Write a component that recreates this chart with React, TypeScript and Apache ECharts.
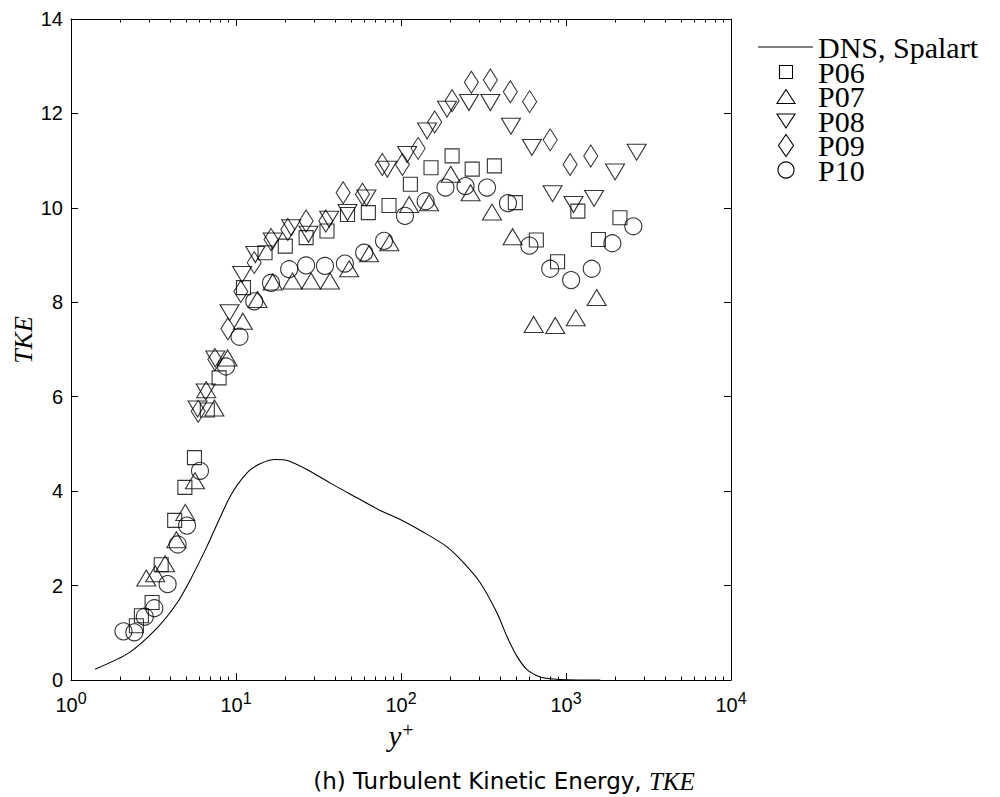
import React, { useEffect, useRef } from "react";
import * as echarts from "echarts";

// DNS, Spalart (y+, TKE)
const dnsData: [number, number][] = [
  [1.4, 0.23], [2.23, 0.57], [3.32, 1.1], [4.39, 1.63], [5.28, 2.12], [6.67, 2.83],
  [9.23, 3.89], [11.7, 4.39], [14.0, 4.58], [17.3, 4.67], [20.4, 4.65], [26.9, 4.46],
  [37.3, 4.17], [54.1, 3.86], [74.9, 3.59], [99, 3.4], [137, 3.13], [190, 2.82],
  [240, 2.48], [302, 2.06], [382, 1.42], [439, 0.92], [505, 0.5], [580, 0.22],
  [698, 0.064], [841, 0.02], [1000, 0.005], [1614, 0],
];

const p06: [number, number][] = [
  [2.49, 1.15], [2.67, 1.36], [3.1, 1.64], [3.52, 2.44], [4.25, 3.38], [4.9, 4.08],
  [5.6, 4.71], [6.7, 5.72], [7.9, 6.4], [11.1, 8.31], [15.0, 9.05], [19.9, 9.19],
  [26.6, 9.37], [35.6, 9.51], [47.4, 9.86], [63.4, 9.9], [84.6, 10.05], [114, 10.5],
  [152, 10.85], [204, 11.1], [270, 10.82], [368, 10.89], [493, 10.11], [661, 9.32],
  [889, 8.86], [1180, 9.93], [1572, 9.33], [2123, 9.79],
];

const p07: [number, number][] = [
  [2.86, 2.16], [3.24, 2.25], [3.72, 2.46], [4.35, 2.97], [4.93, 3.55], [5.64, 4.22],
  [6.6, 6.15], [7.4, 5.76], [8.9, 6.82], [11.0, 7.6], [13.5, 8.06], [16.7, 8.43],
  [22.0, 8.45], [28.5, 8.45], [37.1, 8.45], [48.5, 8.71], [64, 9.03], [85, 9.26],
  [112, 10.07], [148, 10.11], [200, 10.71], [264, 10.32], [356, 9.91], [475, 9.39],
  [637, 7.53], [861, 7.51], [1146, 7.67], [1535, 8.1],
];

const p08: [number, number][] = [
  [5.85, 5.74], [6.55, 6.1], [7.49, 6.8], [9.14, 7.78], [10.9, 8.59], [13.1, 9.01],
  [16.7, 9.3], [21.6, 9.58], [27.5, 9.44], [36.7, 9.76], [47.4, 9.9], [61.7, 10.21],
  [82.6, 10.82], [109, 11.13], [144, 11.63], [190, 12.09], [258, 12.23], [348, 12.23],
  [464, 11.73], [621, 11.28], [829, 10.3], [1110, 10.07], [1480, 10.2], [1983, 10.76],
  [2680, 11.18],
];

const p09: [number, number][] = [
  [5.9, 5.69], [7.45, 6.79], [8.93, 7.44], [10.7, 8.23], [12.9, 8.84], [16.3, 9.33],
  [20.6, 9.54], [26.6, 9.72], [35, 9.72], [44.6, 10.32], [58.4, 10.29], [77, 10.92],
  [102, 10.92], [127, 11.26], [160, 11.82], [204, 12.27], [267, 12.66], [348, 12.71],
  [460, 12.46], [602, 12.25], [802, 11.44], [1059, 10.92], [1413, 11.1],
];

const p10: [number, number][] = [
  [2.08, 1.03], [2.42, 1.01], [2.8, 1.34], [3.2, 1.52], [3.85, 2.03], [4.43, 2.87],
  [5.05, 3.27], [6.05, 4.43], [8.7, 6.64], [10.5, 7.27], [12.9, 8.02], [16.3, 8.41],
  [21, 8.7], [26.6, 8.78], [34.6, 8.77], [45.7, 8.82], [59.8, 9.05], [78.9, 9.3],
  [105.7, 9.83], [141, 10.14], [186, 10.43], [246, 10.46], [332, 10.43], [445, 10.1],
  [600, 9.2], [802, 8.71], [1074, 8.47], [1432, 8.71], [1909, 9.25], [2559, 9.61],
];

const xMajorTicks = [1, 10, 100, 1000, 10000];
const xMinorTicks = [
  2, 3, 4, 5, 6, 7, 8, 9,
  20, 30, 40, 50, 60, 70, 80, 90,
  200, 300, 400, 500, 600, 700, 800, 900,
  2000, 3000, 4000, 5000, 6000, 7000, 8000, 9000,
];
const yMin = 0;
const yMax = 14;
const yStep = 2;

const seriesNames = ["DNS, Spalart", "P06", "P07", "P08", "P09", "P10"];

export default function App() {
  const ref = useRef<HTMLDivElement>(null);

  useEffect(() => {
    if (!ref.current) return;
    const chart = echarts.init(ref.current, undefined, { renderer: "svg" });

    const black = "#000";
    const markerStyle = {
      color: "rgba(0,0,0,0)",
      borderColor: black,
      borderWidth: 1.1,
    };

    const baseX = {
      type: "log" as const,
      logBase: 10,
      min: 1,
      max: 10000,
      gridIndex: 0,
      splitLine: { show: false },
    };

    const expLabel = (v: number) => `{b|10}{s|${Math.round(Math.log10(v))}}`;

    // legend (drawn as graphic so that the stacked MATLAB-style layout is kept)
    const lgX = 786;
    const lgText = 818;
    const rows = [47, 72, 96.5, 121, 145.5, 170];
    const stroke = { stroke: black, lineWidth: 1.1, fill: "none" };
    const lgFont = { fontFamily: "Liberation Serif", fontSize: 30, fill: black, verticalAlign: "middle", align: "left" };
    const legendGraphics: any[] = [
      { type: "line", shape: { x1: 758, y1: rows[0], x2: 813, y2: rows[0] }, style: { stroke: black, lineWidth: 1.1 } },
      { type: "rect", shape: { x: lgX - 6.5, y: rows[1] - 6.5, width: 13, height: 13 }, style: stroke },
      { type: "polygon", shape: { points: [[lgX - 9, rows[2] + 7], [lgX + 9, rows[2] + 7], [lgX, rows[2] - 7]] }, style: stroke },
      { type: "polygon", shape: { points: [[lgX - 9, rows[3] - 7], [lgX + 9, rows[3] - 7], [lgX, rows[3] + 7]] }, style: stroke },
      { type: "polygon", shape: { points: [[lgX, rows[4] - 11], [lgX + 7.5, rows[4]], [lgX, rows[4] + 11], [lgX - 7.5, rows[4]]] }, style: stroke },
      { type: "circle", shape: { cx: lgX, cy: rows[5], r: 8 }, style: stroke },
      ...seriesNames.map((n, i) => ({
        type: "text",
        x: lgText,
        y: rows[i],
        style: { text: n, ...lgFont },
      })),
    ];

    const option: any = {
      animation: false,
      backgroundColor: "#fff",
      grid: { left: 71, right: 269, top: 19, bottom: 117, containLabel: false },
      xAxis: [
        {
          ...baseX,
          position: "bottom",
          axisLine: { show: true, onZero: false, lineStyle: { color: black, width: 1 } },
          axisTick: { show: true, inside: true, length: 7, customValues: xMajorTicks, lineStyle: { color: black, width: 1 } },
          axisLabel: {
            show: true,
            customValues: xMajorTicks,
            margin: 10,
            formatter: expLabel,
            rich: {
              b: { fontFamily: "Liberation Sans", fontSize: 20, color: black },
              s: { fontFamily: "Liberation Sans", fontSize: 16, color: black, padding: [0, 0, 13, 0] },
            },
          },
        },
        {
          ...baseX,
          position: "bottom",
          axisLine: { show: false, onZero: false },
          axisTick: { show: true, inside: true, length: 3.5, customValues: xMinorTicks, lineStyle: { color: black, width: 1 } },
          axisLabel: { show: false },
        },
        {
          ...baseX,
          position: "top",
          axisLine: { show: true, onZero: false, lineStyle: { color: black, width: 1 } },
          axisTick: { show: true, inside: true, length: 7, customValues: xMajorTicks, lineStyle: { color: black, width: 1 } },
          axisLabel: { show: false },
        },
        {
          ...baseX,
          position: "top",
          axisLine: { show: false, onZero: false },
          axisTick: { show: true, inside: true, length: 3.5, customValues: xMinorTicks, lineStyle: { color: black, width: 1 } },
          axisLabel: { show: false },
        },
      ],
      yAxis: [
        {
          type: "value",
          min: yMin,
          max: yMax,
          interval: yStep,
          position: "left",
          splitLine: { show: false },
          axisLine: { show: true, onZero: false, lineStyle: { color: black, width: 1 } },
          axisTick: { show: true, inside: true, length: 7, lineStyle: { color: black, width: 1 } },
          axisLabel: { show: true, margin: 8, fontFamily: "Liberation Sans", fontSize: 20, color: black },
        },
        {
          type: "value",
          min: yMin,
          max: yMax,
          interval: yStep,
          position: "right",
          splitLine: { show: false },
          axisLine: { show: true, onZero: false, lineStyle: { color: black, width: 1 } },
          axisTick: { show: true, inside: true, length: 7, lineStyle: { color: black, width: 1 } },
          axisLabel: { show: false },
        },
      ],
      graphic: [
        ...legendGraphics,
        {
          type: "text",
          x: 23,
          y: 340,
          rotation: Math.PI / 2,
          style: {
            text: "TKE",
            fontFamily: "Liberation Serif",
            fontStyle: "italic",
            fontSize: 26,
            fill: black,
            align: "center",
            verticalAlign: "middle",
          },
        },
        {
          type: "text",
          x: 401,
          y: 736,
          style: {
            text: "{i|y}{s|+}",
            align: "center",
            verticalAlign: "middle",
            fill: black,
            rich: {
              i: { fontFamily: "Liberation Serif", fontStyle: "italic", fontSize: 29, fill: black },
              s: { fontFamily: "Liberation Serif", fontSize: 20, fill: black, padding: [0, 0, 13, 1] },
            },
          },
        },
        {
          type: "text",
          x: 504,
          y: 781,
          style: {
            text: "{n|(h) Turbulent Kinetic Energy, }{i|TKE}",
            align: "center",
            verticalAlign: "middle",
            fill: black,
            rich: {
              n: { fontFamily: "DejaVu Sans", fontSize: 23, fill: black },
              i: { fontFamily: "Liberation Serif", fontStyle: "italic", fontSize: 25, fill: black },
            },
          },
        },
      ],
      series: [
        {
          name: seriesNames[0],
          type: "line",
          data: dnsData,
          symbol: "none",
          smooth: 0.25,
          lineStyle: { color: black, width: 1.1 },
          itemStyle: { color: black },
          z: 3,
        },
        {
          name: seriesNames[1],
          type: "scatter",
          data: p06,
          symbol: "rect",
          symbolSize: 14,
          itemStyle: markerStyle,
        },
        {
          name: seriesNames[2],
          type: "scatter",
          data: p07,
          symbol: "triangle",
          symbolSize: [19, 16],
          itemStyle: markerStyle,
        },
        {
          name: seriesNames[3],
          type: "scatter",
          data: p08,
          symbol: "path://M0,0L20,0L10,16Z",
          symbolSize: [19, 16],
          itemStyle: markerStyle,
        },
        {
          name: seriesNames[4],
          type: "scatter",
          data: p09,
          symbol: "diamond",
          symbolSize: [14, 22],
          itemStyle: markerStyle,
        },
        {
          name: seriesNames[5],
          type: "scatter",
          data: p10,
          symbol: "circle",
          symbolSize: 17,
          itemStyle: markerStyle,
        },
      ],
    };

    chart.setOption(option);
    return () => chart.dispose();
  }, []);

  return (
    <div
      ref={ref}
      style={{ position: "fixed", left: 0, top: 0, width: 1000, height: 797, background: "#fff" }}
    />
  );
}
